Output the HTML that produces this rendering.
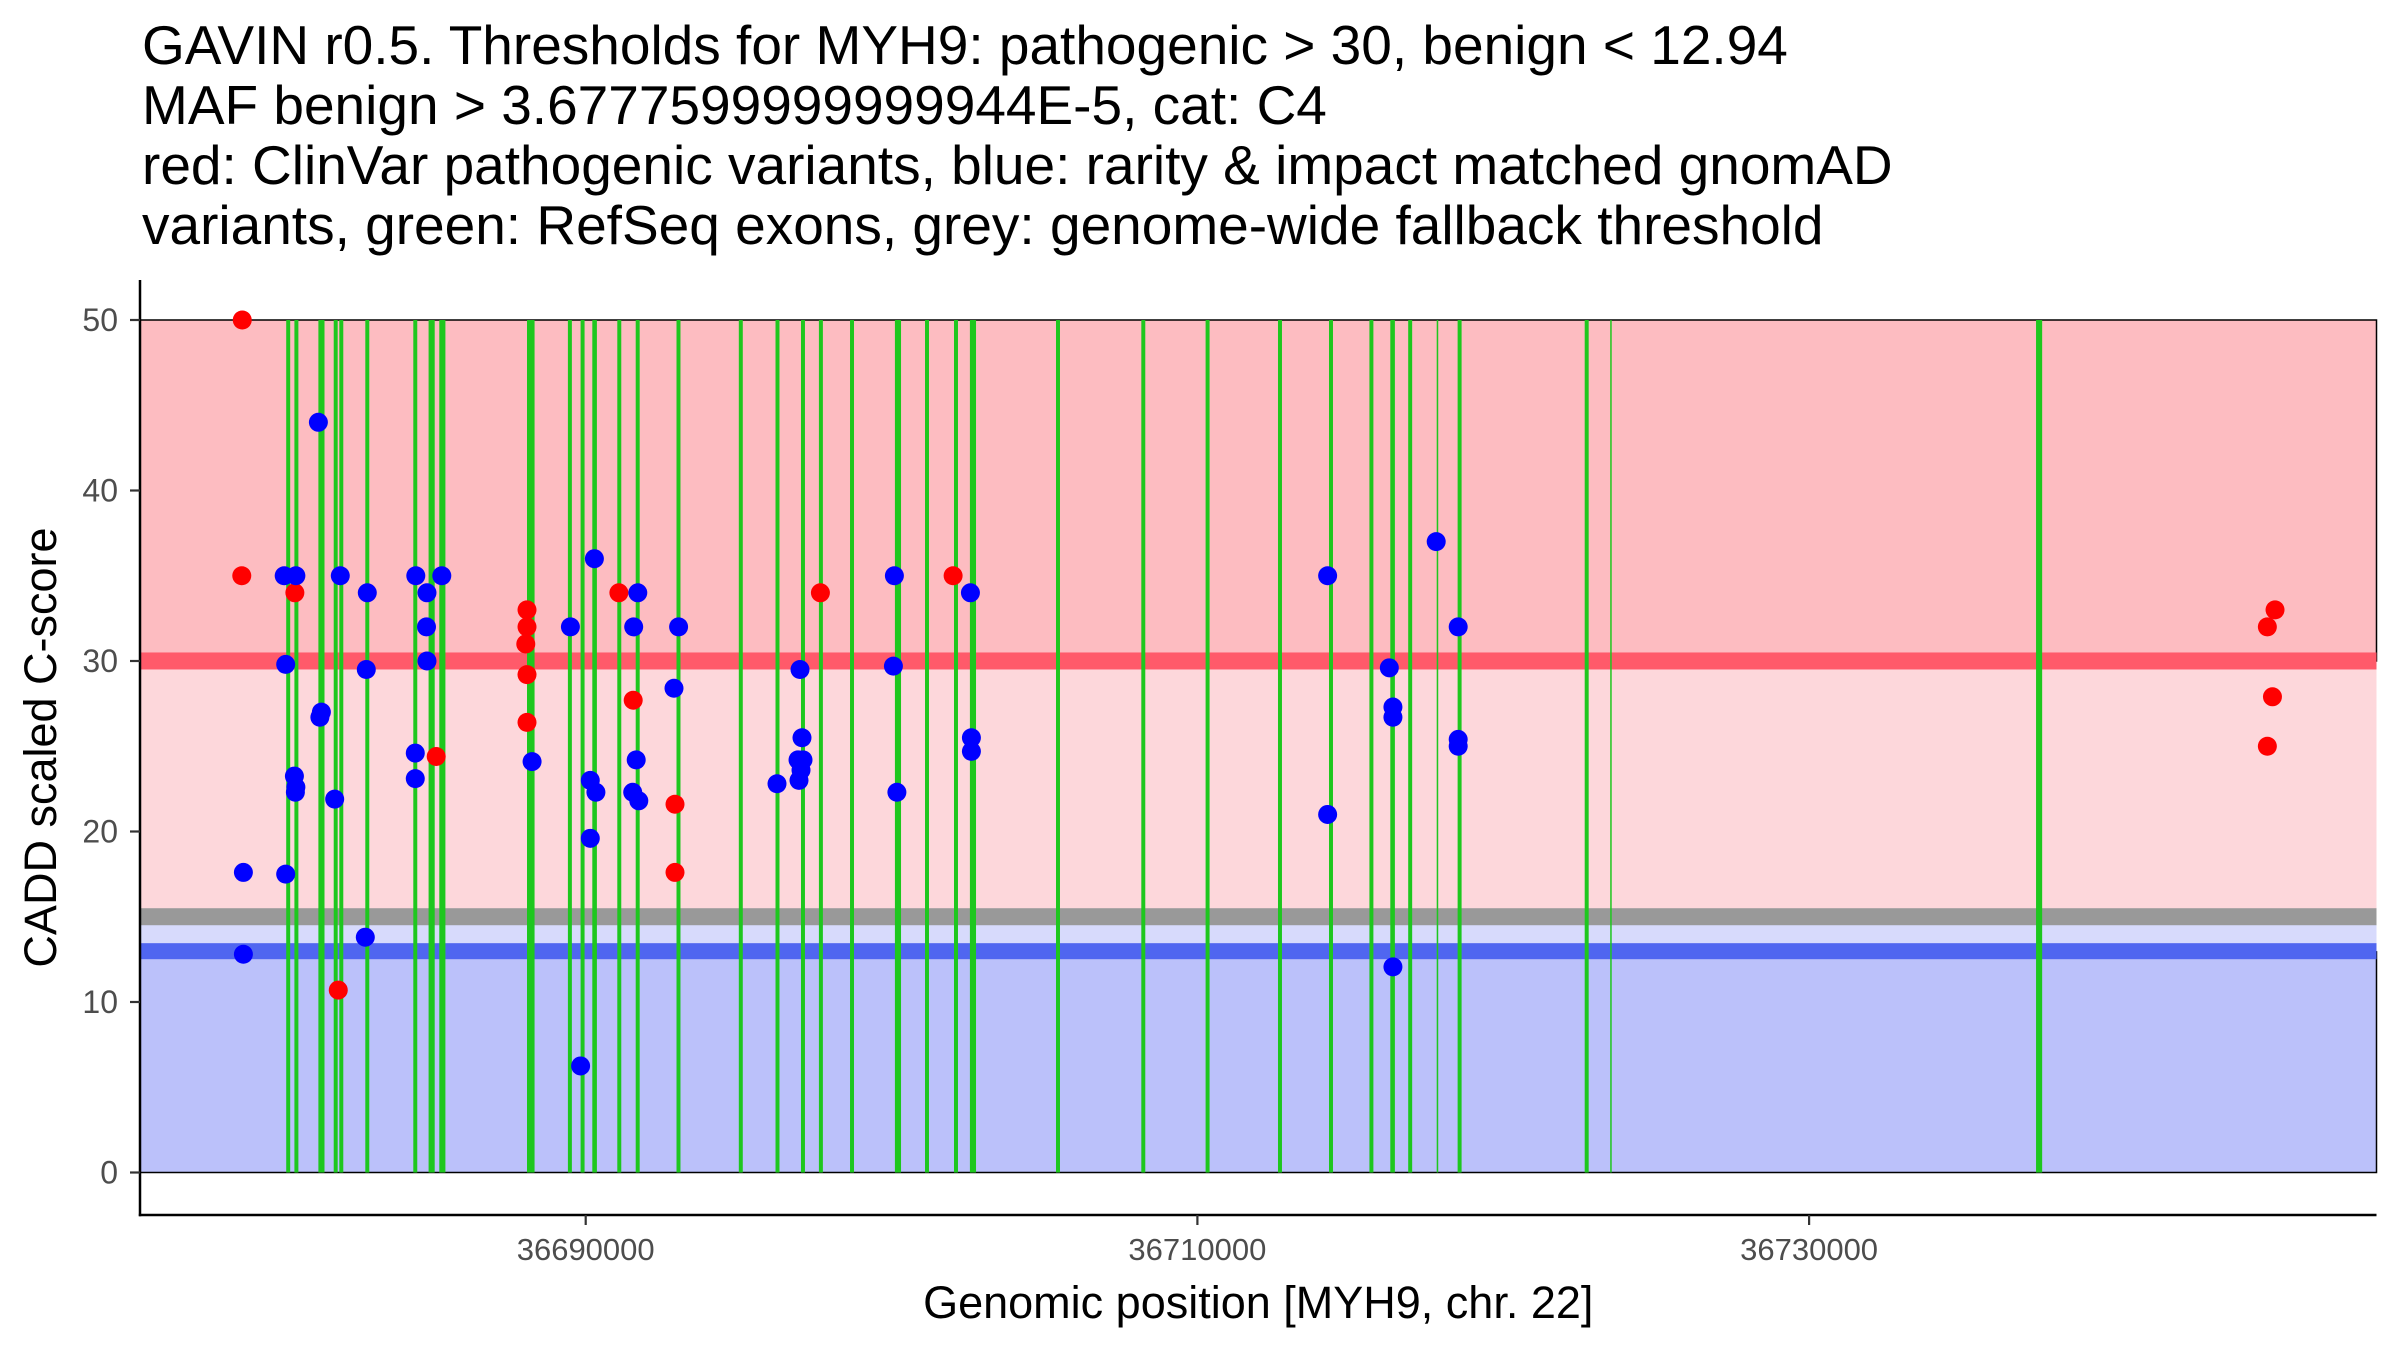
<!DOCTYPE html>
<html><head><meta charset="utf-8"><style>
html,body{margin:0;padding:0;background:#fff;}
svg{display:block;font-family:"Liberation Sans",Arial,sans-serif;}
</style></head><body>
<svg id="chart" width="2400" height="1350" viewBox="0 0 2400 1350" xmlns="http://www.w3.org/2000/svg">
<g font-size="55" fill="#000">
<text x="142" y="64">GAVIN r0.5. Thresholds for MYH9: pathogenic &gt; 30, benign &lt; 12.94</text>
<text x="142" y="124">MAF benign &gt; 3.6777599999999944E-5, cat: C4</text>
<text x="142" y="184">red: ClinVar pathogenic variants, blue: rarity &amp; impact matched gnomAD</text>
<text x="142" y="244">variants, green: RefSeq exons, grey: genome-wide fallback threshold</text>
</g>
<g id="panel"></g>
<g id="axes"></g>
</svg>
<script>
const exonStart = [36680208,36680476,36681260,36681761,36681944,36682794,36684363,36684863,36685213,36688081,36688198,36689418,36689833,36690216,36691033,36691635,36692969,36695006,36696206,36697039,36697625,36698642,36700110,36701094,36702042,36702562,36705377,36708166,36710268,36712635,36714303,36715624,36716307,36716892,36717824,36718508,36722663,36723497,36737420];
const exonLen = [130,130,200,130,130,130,130,200,200,130,130,130,130,150,130,130,130,130,130,130,130,130,200,130,130,200,130,130,130,130,130,130,150,130,50,130,130,40,200];
const redPos = [36678771,36678755,36680491,36681910,36685112,36688081,36688081,36688041,36688081,36688081,36691085,36691553,36692920,36692920,36697674,36702013,36745234,36744983,36745150,36744983];
const redScore = [50,35,34,10.7,24.4,33,32,31,29.2,26.4,34,27.7,21.6,17.6,34,35,33,32,27.9,25.0];
const bluePos = [36678808,36678808,36680142,36680524,36680191,36680191,36680476,36680524,36680508,36681260,36681358,36681309,36681976,36681793,36682859,36682826,36682794,36684445,36684428,36684428,36684811,36684795,36684811,36685295,36688247,36689500,36689833,36690284,36690150,36690334,36690150,36691703,36691569,36691651,36691537,36691736,36693037,36692887,36696255,36697007,36697072,36697105,36696942,36697040,36696974,36700093,36700061,36700175,36702579,36702611,36702611,36714258,36714258,36716275,36716393,36716393,36716393,36717808,36718527,36718527,36718527];
const blueScore = [17.6,12.8,35,35,29.8,17.5,23.25,22.6,22.3,44,27,26.7,35,21.9,34,29.5,13.8,35,24.6,23.1,34,32,30,35,24.1,32,6.25,36,23,22.3,19.6,34,32,24.2,22.3,21.8,32,28.4,22.8,29.5,25.5,24.2,24.2,23.6,23,35,29.7,22.3,34,25.5,24.7,35,21,29.6,27.3,26.7,12.06,37,32,25.4,25];
const yTicks = [0,10,20,30,40,50];
const xTicks = [36690000,36710000,36730000];
const pathoThreshold = 30, benignThreshold = 12.94, fallbackThreshold = 15;

const NS = "http://www.w3.org/2000/svg";
const L = 140, R = 2376.5, T = 280, B = 1215;
const xs = p => 585.7 + (p - 36690000) * 0.030585;
const ys = v => 1172.5 - v * 17.05;
function mk(parent, tag, attrs) {
  const e = document.createElementNS(NS, tag);
  for (const k in attrs) e.setAttribute(k, attrs[k]);
  parent.appendChild(e); return e;
}
const panel = document.getElementById('panel');
const axes = document.getElementById('axes');
let e;
e = mk(panel, 'rect', {x:L, y:ys(50), width:R-L, height:ys(pathoThreshold)-ys(50), fill:'#FDBCC1', stroke:'#000', 'stroke-width':1.5});


e = mk(panel, 'rect', {x:L, y:ys(pathoThreshold), width:R-L, height:ys(fallbackThreshold)-ys(pathoThreshold), fill:'#FDD7DB'});


e = mk(panel, 'rect', {x:L, y:ys(fallbackThreshold), width:R-L, height:ys(benignThreshold)-ys(fallbackThreshold), fill:'#D7DAFC'});


e = mk(panel, 'rect', {x:L, y:ys(benignThreshold), width:R-L, height:ys(0)-ys(benignThreshold), fill:'#BBC1FA', stroke:'#000', 'stroke-width':1.5});


e = mk(panel, 'rect', {x:L, y:ys(fallbackThreshold+0.5), width:R-L, height:17, fill:'#999999'});


e = mk(panel, 'rect', {x:L, y:ys(pathoThreshold+0.5), width:R-L, height:17, fill:'#FF5A6A'});


e = mk(panel, 'rect', {x:L, y:ys(13.45), width:R-L, height:16, fill:'#5066F0'});


exonStart.forEach((s, i) => {
  const x0 = xs(s), w = Math.max(1.5, xs(s + exonLen[i]) - x0);
  const r = mk(panel, 'rect', {x:x0, y:ys(50), width:w, height:ys(0)-ys(50), fill:'#1EC71E'});
  
  
});
redPos.forEach((p, i) => {
  const c = mk(panel, 'circle', {cx:xs(p), cy:ys(redScore[i]), r:9.5, fill:'#FF0000'});
  
  
});
bluePos.forEach((p, i) => {
  const c = mk(panel, 'circle', {cx:xs(p), cy:ys(blueScore[i]), r:9.5, fill:'#0000FF'});
  
  
});
e = mk(axes, 'line', {x1:L, y1:T, x2:L, y2:B+1.2, stroke:'#000', 'stroke-width':2.5});


e = mk(axes, 'line', {x1:L-1.2, y1:B, x2:R, y2:B, stroke:'#000', 'stroke-width':2.5});


yTicks.forEach(v => {
  const t = mk(axes, 'line', {x1:L-10, y1:ys(v), x2:L, y2:ys(v), stroke:'#333', 'stroke-width':2.2});
  
  
  const lb = mk(axes, 'text', {x:118, y:ys(v)+11, 'text-anchor':'end', 'font-size':32, fill:'#4D4D4D'});
  lb.textContent = v;
  
  
});
xTicks.forEach(v => {
  const t = mk(axes, 'line', {x1:xs(v), y1:B, x2:xs(v), y2:B+10, stroke:'#333', 'stroke-width':2.2});
  
  
  const lb = mk(axes, 'text', {x:xs(v), y:1260, 'text-anchor':'middle', 'font-size':31, fill:'#4D4D4D'});
  lb.textContent = v;
  
  
});
e = mk(axes, 'text', {x:(L+R)/2, y:1318, 'text-anchor':'middle', 'font-size':45, fill:'#000'});
e.textContent = 'Genomic position [MYH9, chr. 22]';


e = mk(axes, 'text', {x:0, y:0, transform:'translate(56,'+((T+B)/2)+') rotate(-90)', 'text-anchor':'middle', 'font-size':45, fill:'#000'});
e.textContent = 'CADD scaled C-score';


</script>
</body></html>
